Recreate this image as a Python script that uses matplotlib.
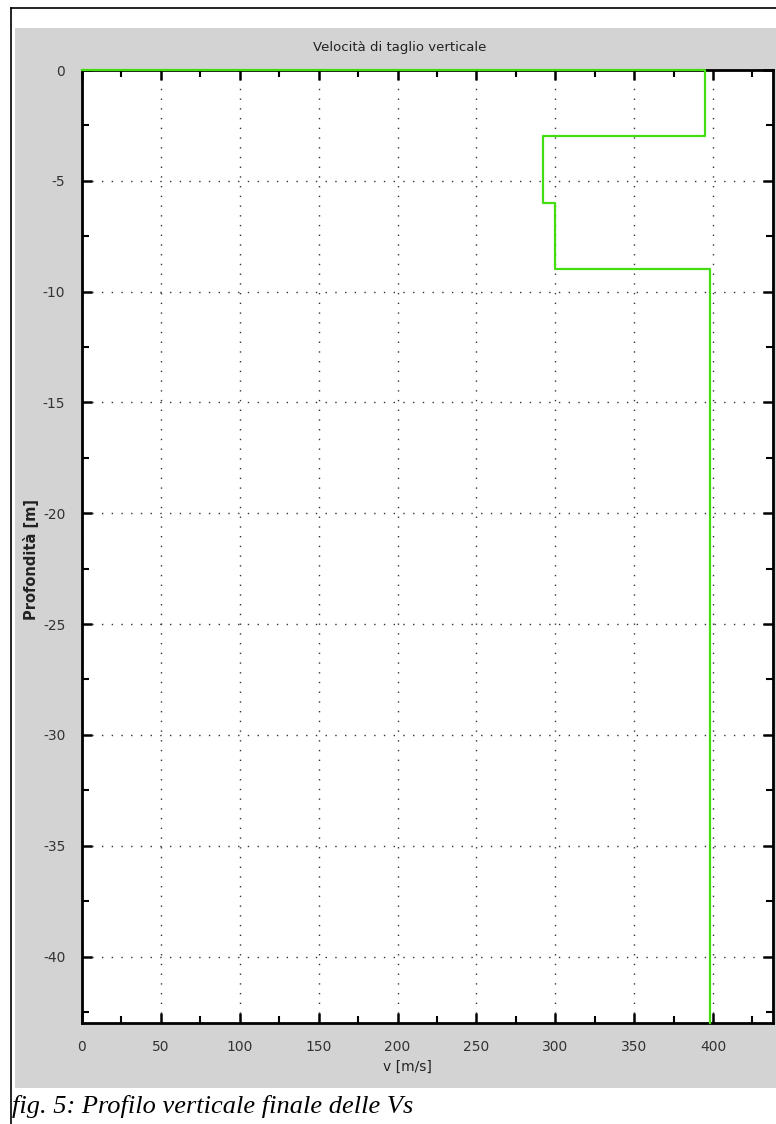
import numpy as np
import matplotlib
matplotlib.use("Agg")
import matplotlib.pyplot as plt
from matplotlib.patches import Rectangle
from matplotlib.lines import Line2D
from matplotlib.ticker import MultipleLocator

plt.rcParams["axes.unicode_minus"] = False

# Vs profile: layer tops/bottoms (m) and shear velocity (m/s)
layer_top = [0, 3, 6, 9]
layer_bot = [3, 6, 9, 43]
vs = [395, 292, 300, 398]

# step line starting from v = 0 at the surface
xs = [0]
ys = [0]
for top, bot, v in zip(layer_top, layer_bot, vs):
    xs += [v, v]
    ys += [-top, -bot]

W, H = 776, 1124
fig = plt.figure(figsize=(W / 100, H / 100), dpi=100)
fig.patch.set_facecolor("white")

def fx(px):
    return px / W

def fy(py):
    return 1 - py / H

# grey window background and page frame
fig.patches.append(Rectangle((fx(15), fy(1088)), fx(776) - fx(15), fy(28) - fy(1088),
                             transform=fig.transFigure, facecolor="#d3d3d3",
                             edgecolor="none", zorder=-10))
fig.lines.append(Line2D([fx(11), fx(776)], [fy(8), fy(8)], transform=fig.transFigure,
                        color="black", lw=1.2))
fig.lines.append(Line2D([fx(11), fx(11)], [fy(8), fy(1124)], transform=fig.transFigure,
                        color="black", lw=1.2))

ax = fig.add_axes([fx(82), fy(1023), fx(773) - fx(82), fy(70) - fy(1023)])
ax.set_zorder(1)
ax.set_facecolor("white")
ax.plot(xs, ys, color="#44dd11", lw=1.6, zorder=3, clip_on=False)

ax.set_xlim(0, 438)
ax.set_ylim(-43, 0)
ax.xaxis.set_major_locator(MultipleLocator(50))
ax.xaxis.set_minor_locator(MultipleLocator(25))
ax.yaxis.set_major_locator(MultipleLocator(5))
ax.yaxis.set_minor_locator(MultipleLocator(2.5))
ax.tick_params(which="both", direction="in", top=True, right=True, color="black",
               labelsize=10, labelcolor="#333333")
ax.tick_params(which="major", length=7, width=1.8, pad=12)
ax.tick_params(which="minor", length=5, width=1.5)
ax.grid(True, which="major", linestyle=(0, (1, 6)), color="#333333", lw=1.0)
for s in ax.spines.values():
    s.set_linewidth(2)
    s.set_color("black")

fig.text(fx(400), fy(48), "Velocità di taglio verticale", ha="center", va="center",
         fontsize=9.5, color="#222222")
fig.text(fx(407), fy(1067), "v [m/s]", ha="center", va="center",
         fontsize=10, color="#222222")
fig.text(fx(31), fy(560), "Profondità [m]", ha="center", va="center", rotation=90,
         fontsize=10.5, color="#222222", fontweight="bold")
fig.text(fx(12), fy(1106), "fig. 5: Profilo verticale finale delle Vs", ha="left",
         va="center", fontsize=19, style="italic", family="Liberation Serif")

fig.savefig("out.png", dpi=100)
